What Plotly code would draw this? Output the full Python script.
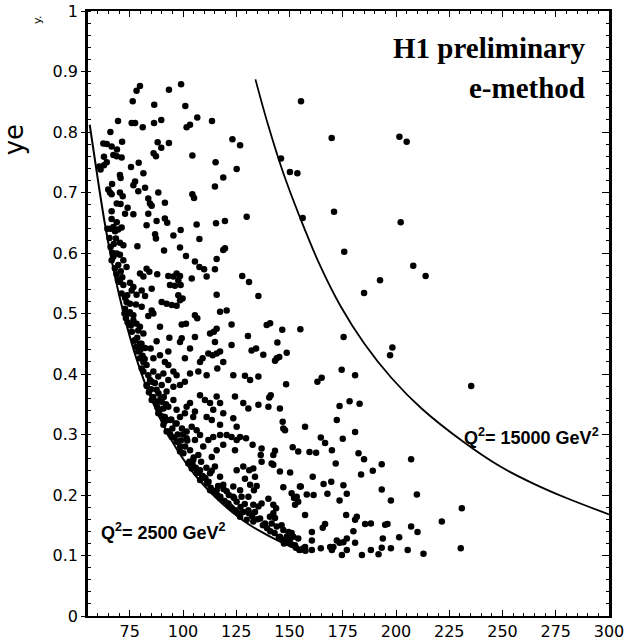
import plotly.graph_objects as go

# ---- event data: invariant mass M (GeV) and y_e ----
M_events = [
79.8,78.2,93.4,99.1,76.4,86.5,101.1,69.5,75.9,77.5,81.1,86.4,89.8,101.7,103.3,106.7,113.6,65.9,62.6,64.2,
66.5,71.4,69.0,67.3,68.9,71.2,62.9,88.1,93.4,89.8,86.2,87.3,104.4,123.2,126.8,64.2,62.9,61.3,60.7,79.2,
75.6,115.3,125.2,81.4,70.4,70.7,118.9,66.7,77.5,76.7,82.2,115.0,64.9,65.7,66.5,70.4,71.7,79.0,88.4,104.4,
105.2,83.7,84.5,85.3,68.9,70.7,74.0,91.5,66.5,72.8,76.7,83.7,
155.4,169.8,201.6,205.0,146.0,150.2,153.7,170.9,
156.2,202.2,175.7,127.8,131.0,135.4,192.5,185.0,139.3,140.9,146.6,155.1,130.5,175.4,144.3,132.2,134.3,137.7,
148.7,144.0,145.2,143.2,198.3,197.2,174.5,180.8,165.1,129.1,135.4,
208.1,213.9,
235.3,163.1,173.5,178.2,182.9,172.2,157.3,180.8,164.7,166.7,169.9,171.7,175.0,159.4,162.5,182.4,185.0,193.3,
189.1,183.6,207.1,160.9,166.0,169.6,175.3,176.9,167.8,158.1,161.3,155.3,173.5,193.3,197.6,209.8,230.9,221.5,
207.1,210.1,176.6,181.6,180.8,185.5,188.2,194.9,196.0,166.7,165.6,160.5,201.5,193.8,197.6,193.3,180.0,176.9,
175.3,172.2,173.5,170.6,180.8,176.9,174.6,184.0,188.2,191.8,205.5,212.9,230.4,164.7,169.1,169.9,160.5,156.6,
157.3,160.5,157.3,
131.5,148.4,141.2,140.5,128.3,130.7,135.4,140.1,145.5,146.8,147.1,147.9,126.8,129.6,132.7,136.9,136.5,143.2,
142.4,151.5,154.1,136.9,133.0,141.6,142.4,128.3,131.1,145.5,150.3,129.1,133.8,147.1,154.9,131.5,134.6,133.3,
126.8,127.5,130.7,133.0,135.4,136.9,140.1,142.4,143.7,151.0,152.1,153.4,152.6,154.1,126.8,129.9,133.0,136.2,
138.5,128.3,130.7,133.8,140.8,142.4,143.2,141.6,144.0,146.3,147.1,149.5,151.0,151.8,154.1,150.2,152.6,154.6,
145.5,148.7,147.4,
66.5,68.9,67.3,66.0,68.1,69.6,71.2,82.9,87.6,91.5,92.6,106.4,115.5,119.7,129.9,95.5,98.9,86.9,87.3,107.7,
68.5,70.4,72.0,78.6,91.1,98.6,119.7,118.9,68.9,67.3,66.5,70.4,72.0,69.6,73.5,101.4,105.6,107.7,109.9,115.8,
115.0,82.9,84.2,79.8,81.4,87.9,93.1,95.5,97.0,98.6,97.8,104.1,111.1,93.9,96.2,98.9,70.4,72.0,75.1,76.7,
75.9,80.6,78.2,82.2,85.3,71.2,72.8,73.5,75.1,115.8,97.8,98.6,99.8,90.0,92.3,94.7,97.0,77.9,80.6,72.8,
75.1,76.7,85.3,83.7,86.1,105.6,106.7,117.4,120.5,99.4,101.4,122.8,76.7,78.2,79.8,79.0,81.4,89.2,105.6,112.7,
114.5,115.8,93.6,98.6,99.4,87.6,84.8,77.5,79.8,82.2,115.0,122.8,103.3,93.1,111.9,113.9,115.8,117.4,79.0,79.8,
81.4,82.9,80.6,86.1,89.2,91.5,93.1,100.9,108.0,109.2,118.9,116.1,103.3,107.2,111.1,95.5,97.0,
81.4,83.7,86.1,88.4,90.8,93.1,85.3,82.9,90.0,95.5,87.6,92.3,98.6,100.9,108.0,110.3,112.7,115.8,117.4,114.2,
124.4,123.6,85.3,87.6,90.0,90.8,93.1,95.5,97.0,88.4,91.5,93.9,90.8,97.0,98.6,100.9,101.7,103.3,104.8,105.6,
104.1,106.4,108.0,101.7,92.3,94.7,97.0,98.6,98.6,100.2,103.3,105.6,101.7,104.8,107.2,109.5,111.9,114.2,117.4,118.9,
115.8,113.5,120.5,122.8,125.2,124.4,111.1,113.5,118.9,123.6,117.4,125.2,102.5,104.1,106.4,108.0,109.5,111.1,112.7,115.0,
117.4,118.9,115.8,120.5,123.6,121.3,125.2,123.6,125.2,108.0,112.7,117.4,122.1,126.0,
64.5,65.5,66.0,67.5,67.0,68.0,68.8,69.5,70.8,71.5,72.5,73.2,74.0,74.5,75.5,76.0,73.8,
77.0,78.0,78.5,80.0,81.0,82.0,80.5,83.0,84.0,85.0,86.0,87.0,88.0,89.0,84.5,86.8,88.5,89.5,91.0,92.0,90.0,91.5,
93.0,94.0,95.0,96.0,97.5,99.0,96.5,99.5,94.5,101.0,102.0,100.0,
103.0,104.5,106.0,107.5,109.0,110.5,112.0,105.0,108.5,111.0,113.5,
113.0,114.5,116.0,117.5,119.5,121.0,123.0,124.5,116.5,119.0,121.5,124.0,
127.0,129.0,131.0,132.5,135.0,137.5,139.5,
141.0,143.0,145.0,147.0,149.0,151.0,153.0,155.5,157.5,
]
y_events = [
.876,.868,.870,.879,.851,.845,.843,.818,.815,.815,.808,.815,.820,.808,.812,.824,.818,.800,.781,.780,
.776,.784,.771,.762,.760,.758,.759,.783,.782,.774,.765,.760,.761,.788,.778,.750,.745,.738,.743,.749,
.742,.750,.739,.732,.729,.724,.725,.714,.718,.712,.708,.710,.705,.700,.697,.700,.694,.702,.700,.697,
.691,.690,.682,.678,.682,.681,.675,.683,.669,.665,.664,.665,
.851,.790,.792,.784,.756,.734,.732,.668,
.658,.651,.602,.562,.552,.529,.555,.534,.481,.484,.473,.474,.463,.461,.452,.439,.442,.432,
.435,.426,.428,.422,.444,.431,.407,.398,.394,.397,.396,
.579,.562,
.380,.387,.347,.355,.351,.324,.313,.304,.295,.286,.274,.252,.293,.271,.270,.269,.259,.251,
.240,.234,.259,.230,.218,.222,.216,.202,.202,.201,.200,.214,.191,.209,.191,.201,.178,.156,
.148,.139,.167,.164,.159,.152,.153,.151,.152,.152,.146,.139,.130,.128,.112,.113,.140,.128,
.122,.125,.121,.114,.121,.109,.101,.101,.109,.102,.109,.103,.112,.112,.114,.109,.109,.112,
.114,.125,.167,
.390,.383,.365,.361,.352,.343,.349,.346,.343,.321,.310,.307,.296,.294,.283,.277,.266,.273,
.266,.279,.272,.255,.244,.252,.250,.247,.241,.239,.237,.227,.230,.213,.214,.217,.215,.208,
.208,.197,.197,.184,.181,.186,.194,.184,.178,.203,.195,.197,.184,.189,.164,.159,.156,.161,
.153,.172,.175,.172,.164,.170,.162,.153,.148,.150,.142,.139,.137,.131,.128,.126,.117,.109,
.131,.131,.120,
.656,.651,.643,.640,.636,.639,.642,.646,.653,.657,.650,.647,.649,.653,.660,.629,.638,.631,.624,.623,
.624,.617,.613,.611,.604,.609,.608,.605,.599,.594,.588,.597,.588,.580,.577,.595,.586,.577,.573,.590,
.573,.574,.569,.566,.561,.565,.562,.561,.566,.562,.555,.558,.561,.547,.546,.547,.552,.547,.551,.544,
.538,.538,.531,.529,.541,.533,.526,.519,.516,.531,.530,.522,.525,.519,.516,.514,.513,.515,.511,.508,
.502,.497,.505,.496,.500,.497,.492,.503,.505,.482,.483,.482,.489,.483,.478,.472,.467,.478,.461,.467,
.470,.475,.460,.453,.459,.454,.442,.456,.450,.443,.453,.448,.442,.437,.434,.431,.434,.437,.437,.426,
.420,.415,.409,.426,.431,.420,.415,.426,.420,.426,.420,.409,.401,.404,.398,.404,.398,
.404,.398,.404,.396,.401,.390,.387,.382,.382,.379,.374,.371,.382,.387,.365,.357,.352,.363,.352,.341,
.363,.398,.357,.352,.354,.343,.346,.357,.341,.335,.329,.324,.316,.318,.329,.335,.346,.352,.329,.338,
.313,.307,.299,.305,.305,.296,.288,.280,.272,.269,.274,.291,.294,.258,.266,.280,.291,.296,.299,.283,
.274,.263,.299,.296,.291,.274,.329,.324,.335,.327,.316,.313,.252,.244,.236,.241,.230,.219,.236,.247,
.230,.217,.208,.206,.197,.186,.189,.214,.241,.225,.208,.195,.181,.170,
.640,.625,.610,.615,.600,.575,.565,.555,.570,.560,.500,.492,.485,.500,.480,.470,.530,
.455,.445,.460,.440,.430,.425,.450,.380,.370,.375,.362,.355,.345,.340,.390,.385,.368,.360,.362,.350,.330,.322,
.305,.300,.310,.295,.300,.290,.318,.310,.325,.280,.290,.300,
.255,.250,.245,.240,.232,.228,.222,.262,.255,.245,.240,
.212,.205,.200,.197,.190,.185,.178,.175,.215,.210,.200,.195,
.180,.185,.170,.165,.160,.150,.145,
.140,.137,.130,.126,.122,.118,.113,.110,.108,
]

# ---- kinematic curves ----
curve_labels = ["Q<sup>2</sup>= 2500 GeV<sup>2</sup>", "Q<sup>2</sup>= 15000 GeV<sup>2</sup>"]
c2500_M = [56.2, 60.0, 63.0, 66.5, 70.0, 74.0, 78.0, 83.0, 88.0, 94.0, 100.0, 107.0, 115.0, 123.0, 131.5, 140.0, 148.0, 158.0]
c2500_y = [0.812, 0.722, 0.655, 0.588, 0.531, 0.475, 0.427, 0.377, 0.336, 0.294, 0.260, 0.227, 0.197, 0.172, 0.150, 0.133, 0.119, 0.104]
c15000_M = [134.0, 140.0, 147.0, 155.0, 164.0, 174.0, 185.0, 198.0, 212.0, 231.6, 249.0, 265.0, 280.0, 300.0]
c15000_y = [0.887, 0.811, 0.733, 0.658, 0.582, 0.512, 0.451, 0.393, 0.343, 0.288, 0.247, 0.218, 0.195, 0.168]

x_ticks = [75, 100, 125, 150, 175, 200, 225, 250, 275, 300]
y_ticks = [0, 0.1, 0.2, 0.3, 0.4, 0.5, 0.6, 0.7, 0.8, 0.9, 1]
y_ticklabels = ["0", "0.1", "0.2", "0.3", "0.4", "0.5", "0.6", "0.7", "0.8", "0.9", "1"]

fig = go.Figure()
fig.add_trace(go.Scatter(x=M_events, y=y_events, mode="markers",
                         marker=dict(color="black", size=6.5, line=dict(width=0)),
                         hoverinfo="skip"))
fig.add_trace(go.Scatter(x=c2500_M, y=c2500_y, mode="lines", line=dict(color="black", width=2, shape="spline")))
fig.add_trace(go.Scatter(x=c15000_M, y=c15000_y, mode="lines", line=dict(color="black", width=1.8, shape="spline")))
# invisible trace on the right-hand axis so its ticks are drawn
fig.add_trace(go.Scatter(x=[None], y=[None], yaxis="y2", showlegend=False))

tickfont = dict(family="DejaVu Sans", size=16, color="black")
fig.update_layout(
    width=628, height=644,
    margin=dict(l=88, r=19, t=11, b=28, autoexpand=False),
    paper_bgcolor="white", plot_bgcolor="white",
    showlegend=False,
    xaxis=dict(range=[55.4, 300], tickvals=x_ticks, ticks="inside", ticklen=6, tickwidth=1.2,
               tickcolor="black", showgrid=False, zeroline=False, showline=True, linecolor="black",
               linewidth=2, mirror="ticks", tickfont=tickfont, ticklabeloverflow="allow",
               minor=dict(dtick=5, tick0=0, ticks="inside", ticklen=3, tickcolor="black", tickwidth=1)),
    yaxis=dict(range=[0, 1.0], tickvals=y_ticks, ticktext=y_ticklabels, ticks="outside", ticklen=4,
               tickwidth=1.2, tickcolor="black", showgrid=False, zeroline=False, showline=True,
               linecolor="black", linewidth=2.5, mirror=True, tickfont=tickfont, ticklabeloverflow="allow",
               minor=dict(dtick=0.02, tick0=0, ticks="inside", ticklen=3, tickcolor="black", tickwidth=1)),
    yaxis2=dict(range=[0, 1.0], overlaying="y", side="right", tickvals=y_ticks, ticks="inside",
                ticklen=7, tickcolor="black", tickwidth=1.2, showticklabels=False, showgrid=False,
                zeroline=False, showline=False,
                minor=dict(dtick=0.02, tick0=0, ticks="inside", ticklen=3, tickcolor="black", tickwidth=1)),
)

fig.add_annotation(text="H1 preliminary", xref="paper", yref="paper", x=0.958, y=0.939,
                   xanchor="right", yanchor="middle", showarrow=False,
                   font=dict(family="Liberation Serif", size=29, color="black", weight="bold"))
fig.add_annotation(text="e-method", xref="paper", yref="paper", x=0.958, y=0.873,
                   xanchor="right", yanchor="middle", showarrow=False,
                   font=dict(family="Liberation Serif", size=29, color="black", weight="bold"))
fig.add_annotation(text=curve_labels[0], xref="paper", yref="paper", x=0.021, y=0.139,
                   xanchor="left", yanchor="middle", showarrow=False,
                   font=dict(family="Liberation Sans", size=18, color="black", weight="bold"))
fig.add_annotation(text=curve_labels[1], xref="paper", yref="paper", x=0.718, y=0.296,
                   xanchor="left", yanchor="middle", showarrow=False,
                   font=dict(family="Liberation Sans", size=18, color="black", weight="bold"))
fig.add_annotation(text="ye", xref="paper", yref="paper", x=-0.143, y=0.787, textangle=-90,
                   xanchor="center", yanchor="middle", showarrow=False,
                   font=dict(family="DejaVu Sans", size=26, color="black"))
fig.add_annotation(text="y.", xref="paper", yref="paper", x=-0.098, y=0.985, textangle=-90,
                   xanchor="center", yanchor="middle", showarrow=False,
                   font=dict(family="DejaVu Sans", size=11, color="black"))

# remove the browser's default 8 px page margin so the figure fills the window exactly
fig.write_html("out.html", config={"displayModeBar": False},
               post_script="document.body.style.margin='0';")
